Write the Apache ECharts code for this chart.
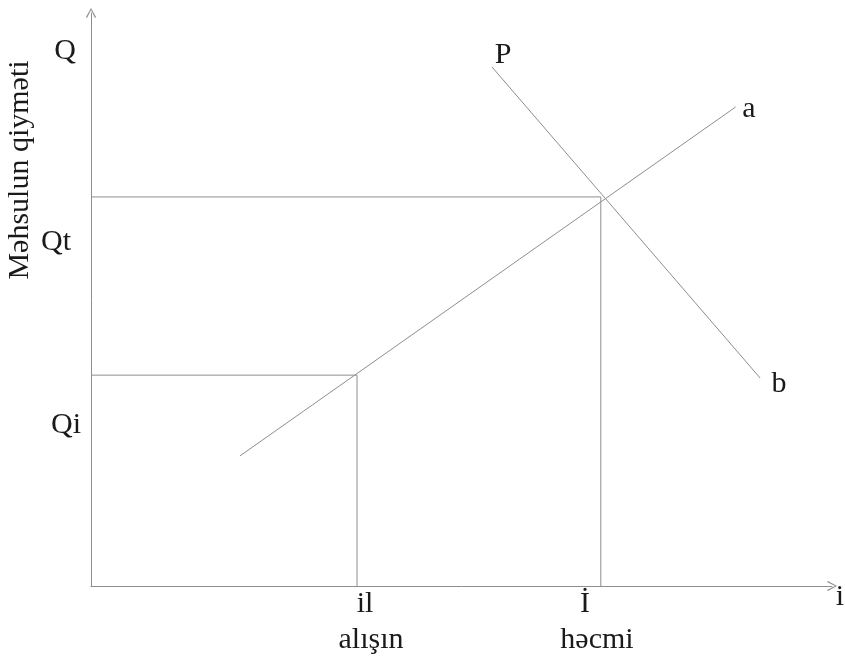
<!DOCTYPE html>
<html>
<head>
<meta charset="utf-8">
<script src="https://cdn.jsdelivr.net/npm/echarts@6/dist/echarts.min.js"></script>
<style>
html,body{margin:0;padding:0;background:#fff;}
#chart{width:845px;height:662px;}
</style>
</head>
<body>
<div id="chart"></div>
<script>
// Values (abstract units, axes 0..100)
const supplyLine = [[20.1, 22.7], [87.0, 83.6]];   // line "a"
const demandLine = [[54.1, 90.6], [90.3, 36.3]];   // line "P" -> "b"
const equilibrium = [68.8, 67.9];                  // (İ, Qt)
const initialPoint = [35.9, 36.8];                 // (il, Qi)
const yAxisTitle = 'Məhsulun qiyməti';
const yLabels = ['Q', 'Qt', 'Qi'];
const xLabels = ['il', 'alışın', 'İ', 'həcmi', 'i'];
const lineLabels = ['P', 'a', 'b'];

const gray = '#8e8e8e';
const font = '"Liberation Serif", "DejaVu Serif", serif';
const arrowPath = 'path://M5,0 L10,9 L9,10 L5,2 L1,10 L0,9 Z';

const chart = echarts.init(document.getElementById('chart'), null, {renderer: 'canvas'});

function guide(pt) {
  return [[0, pt[1]], [pt[0], pt[1]], [pt[0], 0]];
}

function txt(text, x, y, extra) {
  return Object.assign({
    type: 'text', x: x, y: y,
    style: {text: text, fill: '#1a1a1a', font: '30px ' + font, align: 'center', verticalAlign: 'middle'}
  }, extra || {});
}

const lineSeries = (data) => ({
  type: 'line', data: data, showSymbol: false, symbol: 'none', silent: true,
  lineStyle: {color: gray, width: 1}, animation: false
});

chart.setOption({
  backgroundColor: '#fff',
  animation: false,
  grid: {left: 91, right: 13, top: 13, bottom: 76},
  xAxis: {
    type: 'value', min: 0, max: 100,
    axisLine: {lineStyle: {color: gray, width: 1}, symbol: ['none', arrowPath], symbolSize: [12, 10]},
    axisTick: {show: false}, axisLabel: {show: false}, splitLine: {show: false}
  },
  yAxis: {
    type: 'value', min: 0, max: 100,
    axisLine: {show: true, lineStyle: {color: gray, width: 1}, symbol: ['none', arrowPath], symbolSize: [11, 10]},
    axisTick: {show: false}, axisLabel: {show: false}, splitLine: {show: false}
  },
  series: [
    lineSeries(supplyLine),
    lineSeries(demandLine),
    lineSeries(guide(equilibrium)),
    lineSeries(guide(initialPoint))
  ],
  graphic: [
    txt(yAxisTitle, 20, 170, {rotation: Math.PI / 2}),
    txt(yLabels[0], 65, 51),
    txt(yLabels[1], 56, 242),
    txt(yLabels[2], 66, 425),
    txt(lineLabels[0], 503, 55),
    txt(lineLabels[1], 749, 109),
    txt(lineLabels[2], 779, 384),
    txt(xLabels[0], 365, 604),
    txt(xLabels[1], 371, 640),
    txt(xLabels[2], 585, 604),
    txt(xLabels[3], 597, 640),
    txt(xLabels[4], 840, 597)
  ]
});
</script>
</body>
</html>
